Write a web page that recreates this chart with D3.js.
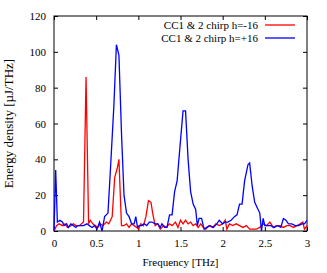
<!DOCTYPE html>
<html>
<head>
<meta charset="utf-8">
<script src="https://cdn.jsdelivr.net/npm/d3@7"></script>
<style>
body { margin:0; background:#fff; }
text { font-family: "Liberation Serif", "DejaVu Serif", serif; }
</style>
</head>
<body>
<div id="display"></div>
<script>
var xTicks = [0, 0.5, 1, 1.5, 2, 2.5, 3]
var yTicks = [0, 20, 40, 60, 80, 100, 120]
var seriesNames = ["CC1 & 2 chirp h=-16", "CC1 & 2 chirp h=+16"]
var seriesColors = ["#ff0000", "#0000ff"]

// h=-16
var redFreq = [0, 0.03, 0.06, 0.1, 0.13, 0.16, 0.2, 0.23, 0.26, 0.3, 0.35, 0.38, 0.41, 0.43, 0.46, 0.49, 0.52, 0.55, 0.58, 0.62, 0.65, 0.69, 0.72, 0.75, 0.77, 0.8, 0.83, 0.86, 0.89, 0.92, 0.95, 0.98, 1.0, 1.03, 1.06, 1.09, 1.12, 1.15, 1.17, 1.2, 1.23, 1.26, 1.3, 1.33, 1.37, 1.4, 1.44, 1.47, 1.5, 1.53, 1.56, 1.59, 1.62, 1.65, 1.68, 1.71, 1.74, 1.77, 1.8, 1.84, 1.88, 1.92, 1.96, 2.0, 2.03, 2.05, 2.08, 2.12, 2.16, 2.2, 2.24, 2.28, 2.32, 2.36, 2.4, 2.44, 2.48, 2.52, 2.56, 2.6, 2.64, 2.68, 2.72, 2.76, 2.8, 2.84, 2.88, 2.92, 2.95, 2.97, 3.0]
var redVals = [0, 3, 4, 3, 4, 2, 3, 4, 3, 3, 5, 86, 4, 6, 4, 3, 2, 4, 3, 5, 4, 8, 30, 35, 40, 3, 3, 4, 2, 4, 3, 2, 1, 4, 3, 8, 17, 16, 10, 3, 4, 1, 3, 2, 4, 3, 5, 2, 6, 4, 6, 4, 5, 3, 4, 2, 4, 2, 1, 3, 2, 4, 3, 4, 6, 1, 4, 3, 4, 3, 2, 3, 1, 1, 1, 2, 4, 3, 5, 2, 3, 3, 2, 3, 3, 2, 3, 4, 5, 1, 3]

// h=+16
var blueFreq = [0, 0.02, 0.04, 0.07, 0.1, 0.12, 0.15, 0.17, 0.2, 0.23, 0.26, 0.28, 0.31, 0.35, 0.39, 0.42, 0.45, 0.48, 0.51, 0.54, 0.57, 0.6, 0.64, 0.67, 0.71, 0.74, 0.77, 0.8, 0.83, 0.86, 0.89, 0.92, 0.95, 0.97, 0.99, 1.01, 1.04, 1.07, 1.1, 1.13, 1.16, 1.2, 1.23, 1.26, 1.28, 1.31, 1.34, 1.37, 1.4, 1.43, 1.46, 1.49, 1.53, 1.56, 1.59, 1.62, 1.65, 1.68, 1.7, 1.72, 1.75, 1.78, 1.81, 1.85, 1.89, 1.93, 1.96, 2.0, 2.03, 2.06, 2.1, 2.14, 2.17, 2.2, 2.23, 2.26, 2.3, 2.32, 2.35, 2.38, 2.41, 2.44, 2.46, 2.48, 2.5, 2.53, 2.57, 2.61, 2.65, 2.69, 2.72, 2.75, 2.78, 2.82, 2.86, 2.9, 2.94, 2.97, 3.0]
var blueVals = [0, 34, 5, 6, 5, 3, 4, 2, 4, 3, 2, 3, 3, 3, 4, 3, 2, 3, 1, 5, 0, 8, 10, 35, 70, 104, 98, 55, 20, 10, 8, 4, 4, 8, 2, 3, 3, 4, 3, 5, 5, 4, 4, 2, 4, 2, 2, 9, 9, 22, 28, 45, 67, 67, 40, 22, 15, 12, 3, 7, 7, 1, 2, 3, 2, 4, 6, 4, 5, 5, 6, 8, 9, 15, 15, 28, 37, 38, 25, 16, 13, 10, 0, 7, 3, 3, 3, 2, 3, 2, 7, 6, 4, 4, 3, 3, 4, 4, 6]

var width = 327, height = 273;
var margin = {left:54, right:20, top:16, bottom:42};

var x = d3.scaleLinear().domain([0, 3]).range([margin.left, width - margin.right]);
var y = d3.scaleLinear().domain([0, 120]).range([height - margin.bottom, margin.top]);

var svg = d3.select("#display").append("svg")
    .attr("width", width).attr("height", height);

var fs = "11px";

// ticks inward, mirrored
svg.append("g")
    .attr("transform", "translate(0," + y(0) + ")")
    .call(d3.axisBottom(x).tickValues(xTicks).tickSizeInner(-4).tickSizeOuter(0).tickPadding(8).tickFormat(d3.format("")))
    .call(g => g.select(".domain").remove())
    .call(g => g.selectAll("text").style("font-size", fs).attr("fill", "#000"));
svg.append("g")
    .attr("transform", "translate(0," + y(120) + ")")
    .call(d3.axisTop(x).tickValues(xTicks).tickSizeInner(-4).tickSizeOuter(0).tickFormat(""))
    .call(g => g.select(".domain").remove());
svg.append("g")
    .attr("transform", "translate(" + x(0) + ",0)")
    .call(d3.axisLeft(y).tickValues(yTicks).tickSizeInner(-4).tickSizeOuter(0).tickPadding(8))
    .call(g => g.select(".domain").remove())
    .call(g => g.selectAll("text").style("font-size", fs).attr("fill", "#000"));
svg.append("g")
    .attr("transform", "translate(" + x(3) + ",0)")
    .call(d3.axisRight(y).tickValues(yTicks).tickSizeInner(-4).tickSizeOuter(0).tickFormat(""))
    .call(g => g.select(".domain").remove());

svg.append("rect")
    .attr("x", x(0)).attr("y", y(120))
    .attr("width", x(3) - x(0)).attr("height", y(0) - y(120))
    .attr("fill", "none").attr("stroke", "#000").attr("stroke-width", 1);

var line = d3.line().x(d => x(d[0])).y(d => y(d[1]));
var plot = svg.append("g");
plot.append("path")
    .datum(redFreq.map((f, i) => [f, redVals[i]]))
    .attr("d", line).attr("fill", "none")
    .attr("stroke", seriesColors[0]).attr("stroke-width", 1.3);
plot.append("path")
    .datum(blueFreq.map((f, i) => [f, blueVals[i]]))
    .attr("d", line).attr("fill", "none")
    .attr("stroke", seriesColors[1]).attr("stroke-width", 1.3);

// legend
var leg = svg.append("g");
seriesNames.forEach(function(n, i) {
  var ly = 25 + i * 13;
  leg.append("text").attr("x", 258).attr("y", ly).attr("dy", "0.35em")
     .attr("text-anchor", "end").style("font-size", fs).text(n);
  leg.append("line").attr("x1", 265).attr("x2", 295).attr("y1", ly).attr("y2", ly)
     .attr("stroke", seriesColors[i]).attr("stroke-width", 1.3);
});

svg.append("text")
    .attr("x", (x(0) + x(3)) / 2).attr("y", 266)
    .attr("text-anchor", "middle").style("font-size", fs)
    .text("Frequency [THz]");
svg.append("text")
    .attr("transform", "translate(13," + ((y(0) + y(120)) / 2) + ") rotate(-90)")
    .attr("text-anchor", "middle").style("font-size", "13px")
    .text("Energy density [µJ/THz]");
</script>
</body>
</html>
